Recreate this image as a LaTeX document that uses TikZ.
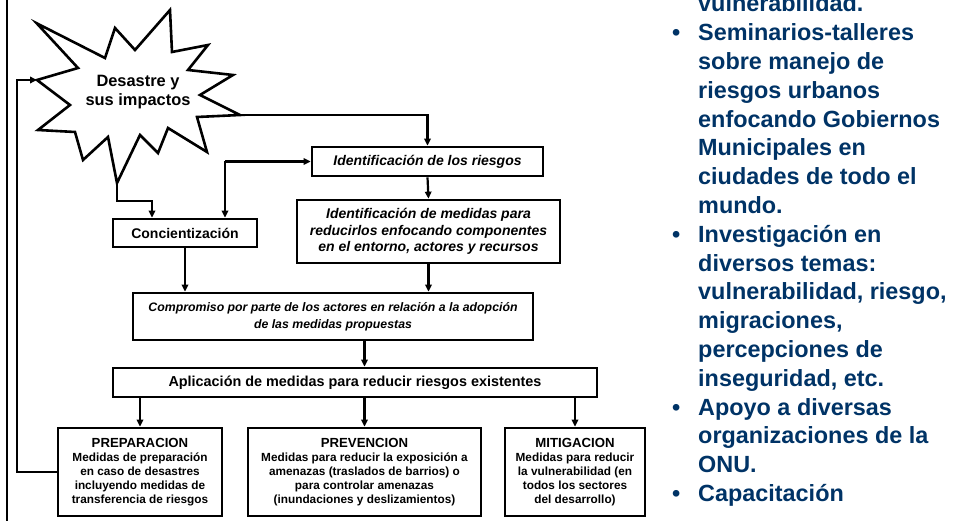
\documentclass[tikz,border=0pt]{standalone}
\usepackage{fontspec}
\setmainfont{Liberation Sans}
\usetikzlibrary{arrows.meta}
\definecolor{navy}{RGB}{0,51,102}
\begin{document}
\begin{tikzpicture}[x=1pt,y=-1pt,
  box/.style={draw, line width=2.7pt, align=center, inner sep=0pt, fill=white},
  conn/.style={line width=2.2pt},
  arr/.style={conn, -{Triangle[length=7pt,width=6.5pt]}},
  btext/.style={anchor=base west, inner sep=0pt, text=navy, font=\fontsize{23.4}{28}\selectfont\bfseries},
  bdot/.style={anchor=base west, inner sep=0pt, text=navy, font=\fontsize{23.4}{28}\selectfont\bfseries}]
\useasboundingbox (0,0) rectangle (954,521);
\clip (0,0) rectangle (954,521);

% left frame line
\draw[line width=1.8pt] (7,-2) -- (7,523);

% star
\draw[line width=2.6pt, fill=white] (36.7,23.3) -- (105,58) -- (115,28) -- (135,50) -- (170,10) -- (172,52)
  -- (208,45) -- (188,70) -- (233,75) -- (200,95) -- (240,115) -- (197,117) -- (207,152)
  -- (168,128) -- (158,153) -- (140,135) -- (117,183) -- (108,137) -- (83,160) -- (75,132)
  -- (38,130) -- (70,105) -- (37,80) -- (78,68) -- cycle;
\node[align=center, inner sep=0pt, font=\fontsize{16.4}{19}\selectfont\bfseries] (star) at (138,92) {Desastre y\\sus impactos};
\coordinate (starR) at (240,115);
\coordinate (starB) at (117,183);
\coordinate (starL) at (37,80);

% boxes
\node[box, minimum width=231, minimum height=29, font=\fontsize{14}{16.7}\selectfont\bfseries\itshape] (ident) at (427.5,161.5) {Identificación de los riesgos};
\node[box, minimum width=263, minimum height=63, font=\fontsize{14}{16.7}\selectfont\bfseries\itshape] (medidas) at (428.5,231.5) {Identificación de medidas para\\reducirlos enfocando componentes\\en el entorno, actores y recursos};
\node[box, minimum width=144, minimum height=28, font=\fontsize{14}{16.7}\selectfont\bfseries] (conc) at (185,233) {Concientización};
\node[box, minimum width=400, minimum height=47, font=\fontsize{12.3}{16.7}\selectfont\bfseries\itshape] (comp) at (333,316.5) {Compromiso por parte de los actores en relación a la adopción\\de las medidas propuestas};
\node[box, minimum width=484, minimum height=29, font=\fontsize{14.4}{16.7}\selectfont\bfseries] (apl) at (355,382.5) {Aplicación de medidas para reducir riesgos existentes};
\node[box, minimum width=164, minimum height=88, font=\fontsize{11.8}{14}\selectfont\bfseries] (prep) at (140,472) {{\fontsize{13.2}{15}\selectfont PREPARACION}\\Medidas de preparación\\en caso de desastres\\incluyendo medidas de\\transferencia de riesgos};
\node[box, minimum width=233, minimum height=88, font=\fontsize{11.8}{14}\selectfont\bfseries] (prev) at (364.5,472) {{\fontsize{13.2}{15}\selectfont PREVENCION}\\Medidas para reducir la exposición a\\amenazas (traslados de barrios) o\\para controlar amenazas\\(inundaciones y deslizamientos)};
\node[box, minimum width=140, minimum height=88, font=\fontsize{11.8}{14}\selectfont\bfseries] (mit) at (575,472) {{\fontsize{13.2}{15}\selectfont MITIGACION}\\Medidas para reducir\\la vulnerabilidad (en\\todos los sectores\\del desarrollo)};

% connectors
\draw[arr] (starR) -| (ident.north);
\coordinate (j1) at (225,161.5);
\draw[arr] (j1) -- (ident.west);
\draw[arr] (j1) -- (j1 |- conc.north);
\draw[arr] (starB) -- ++(0,18) -| ([xshift=-33pt]conc.north);
\draw[arr] (ident.south) -- (medidas.north);
\draw[arr] (conc.south) -- (conc.south |- comp.north);
\draw[arr] (medidas.south) -- (medidas.south |- comp.north);
\draw[arr] (comp.south -| prev.north) -- (prev.north |- apl.north);
\draw[arr] (apl.south -| prep.north) -- (prep.north);
\draw[arr] (apl.south -| prev.north) -- (prev.north);
\draw[arr] (apl.south -| mit.north) -- (mit.north);
\draw[arr] (prep.west) -- ++(-40,0) |- (starL);

% right text
\foreach \t [count=\i from 0] in {vulnerabilidad.,Seminarios-talleres,sobre manejo de,riesgos urbanos,enfocando Gobiernos,Municipales en,ciudades de todo el,mundo.,Investigación en,diversos temas:,{vulnerabilidad, riesgo,},{migraciones,},percepciones de,{inseguridad, etc.},Apoyo a diversas,organizaciones de la,ONU.,Capacitación}
  \node[btext] (r\i) at (698,12+28.8*\i) {\t};
\foreach \i in {1,8,14,17}
  \node[bdot] (d\i) at (672,12+28.8*\i) {•};
\end{tikzpicture}
\end{document}
